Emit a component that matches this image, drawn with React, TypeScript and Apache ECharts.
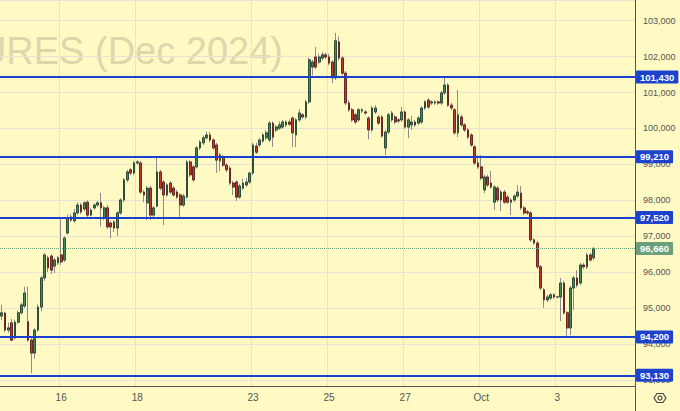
import React, { useEffect, useRef } from 'react';
import * as echarts from 'echarts';

// Each candle: [open, close, low, high]
const candlesSep13: number[][] = [
  [94780, 94870, 94670, 95090], [94860, 94390, 94330, 94900], [94390, 94450, 94320, 94600],
  [94590, 94110, 94080, 94700], [94170, 94610, 94130, 94680], [94610, 94870, 94560, 94930],
  [94870, 95090, 94820, 95150], [95060, 95420, 95000, 95600], [94620, 94110, 94060, 95600],
  [94110, 93750, 93190, 94160], [93750, 94390, 93590, 94440], [94390, 95030, 94340, 95100],
  [95030, 95840, 94920, 95900], [95840, 96480, 95760, 96540], [96400, 96120, 96010, 96460],
  [96450, 96060, 95950, 96500], [96170, 96340, 95980, 96400], [96260, 96400, 96200, 96450],
];
const candlesSep16: number[][] = [
  [96480, 96290, 96200, 97510], [96340, 96950, 96280, 97000], [97090, 97510, 97050, 97600],
  [97540, 97450, 97400, 97620], [97430, 97650, 97380, 97760], [97650, 97870, 97600, 97950],
  [97870, 97680, 97620, 97930], [97760, 97930, 97700, 97980], [97950, 97590, 97540, 98000],
  [97590, 97730, 97550, 97780], [97790, 97870, 97740, 97920], [97870, 97930, 97820, 97980],
  [97930, 97790, 97270, 98210], [97510, 97790, 97450, 97850], [97790, 97260, 97200, 97870],
  [97370, 97260, 96950, 97420], [97400, 97230, 97120, 97450], [97230, 97650, 97000, 97700],
  [97650, 98010, 97600, 98060], [98010, 98570, 97950, 98620], [98570, 98790, 98500, 98850],
  [98850, 98760, 98700, 98900], [98760, 99040, 98700, 99100],
];
const candlesSep18: number[][] = [
  [99040, 99070, 98990, 99120], [99040, 98230, 98180, 99100], [98230, 98150, 97950, 98280],
  [97930, 98340, 97450, 98400], [98340, 97590, 97450, 98400], [97590, 97790, 97540, 97850],
  [97840, 98790, 97800, 99210], [98790, 98340, 98280, 98850], [98510, 98150, 97310, 98560],
  [98150, 98430, 98100, 98480], [98480, 98230, 98180, 98540], [98340, 98150, 98100, 98400],
  [98230, 98090, 98040, 98290], [98150, 97870, 97540, 98200], [97870, 98120, 97820, 98180],
  [98090, 99070, 98040, 99120], [99070, 98710, 98650, 99120], [98930, 98570, 98510, 98980],
  [98930, 99460, 98880, 99510], [99460, 99620, 99400, 99680], [99600, 99740, 99540, 99800],
  [99740, 99820, 99690, 99910], [99820, 99680, 99620, 99900], [99680, 99460, 99400, 99730],
  [99540, 99120, 98760, 99600], [99100, 99260, 98810, 99320], [99210, 98980, 98930, 99260],
  [98980, 98850, 98780, 99040], [98900, 98480, 98420, 98960], [98480, 98370, 98150, 98540],
  [98510, 98090, 97980, 98560], [98090, 98400, 98040, 98460], [98340, 98480, 98290, 98600],
  [98430, 98510, 98370, 98620], [98510, 98760, 98460, 98800],
];
const candlesSep23: number[][] = [
  [98760, 99540, 98700, 99600], [99510, 99340, 99290, 99600], [99540, 99680, 99490, 99740],
  [99650, 99820, 99600, 99880], [99740, 99880, 99680, 99960], [99680, 100150, 99620, 100210],
  [100150, 99760, 99490, 100200], [99960, 100040, 99900, 100100], [100010, 100100, 99960, 100200],
  [100040, 100180, 99990, 100240], [100100, 100180, 100040, 100230], [100180, 100120, 100070, 100250],
  [100290, 99880, 99490, 100340], [99820, 100240, 99480, 100290], [100240, 100430, 100180, 100540],
  [100380, 100320, 100260, 100430], [100320, 100740, 100260, 100800], [100740, 101910, 100680, 101970],
  [101710, 101850, 101480, 101910], [101990, 101710, 101650, 102270], [101850, 101990, 101790, 102080],
  [101960, 102050, 101900, 102130], [102050, 101990, 101930, 102110], [101990, 101820, 101760, 102080],
  [101850, 101410, 101260, 101900],
];
const candlesSep25: number[][] = [
  [101410, 102440, 101350, 102660], [102410, 101960, 101900, 102560], [101960, 101540, 101480, 102020],
  [101540, 100710, 100650, 101600], [100710, 100520, 100460, 100790], [100520, 100240, 100180, 100570],
  [100380, 100180, 100120, 100430], [100240, 100520, 100180, 100570], [100490, 100520, 100430, 100570],
  [100460, 100430, 100380, 100510], [100290, 99960, 99700, 100340], [99960, 100570, 99900, 100630],
  [100460, 100570, 100400, 100650], [100320, 100150, 100100, 100380], [100320, 99790, 99740, 100380],
  [99460, 99900, 99260, 99960], [99900, 100380, 99850, 100430], [100240, 100430, 100180, 100490],
  [100320, 100180, 100120, 100380], [100210, 100240, 100150, 100290], [100240, 100460, 100180, 100600],
];
const candlesSep27: number[][] = [
  [100460, 100040, 99980, 100510], [100040, 100240, 99730, 100290], [100100, 100180, 99960, 100350],
  [100180, 100100, 100040, 100240], [100150, 100290, 100100, 100350], [100180, 100570, 100120, 100620],
  [100570, 100740, 100510, 100790], [100790, 100600, 100540, 100850], [100710, 100740, 100650, 100790],
  [100710, 100740, 100660, 100790], [100740, 100710, 100650, 100790], [100710, 100990, 100650, 101050],
  [100990, 101210, 100930, 101430], [101210, 100650, 100600, 101260], [100650, 100570, 100510, 100710],
  [100520, 99880, 99820, 100570], [99880, 100380, 99760, 101070], [100320, 100100, 100040, 100380],
  [100100, 99960, 99900, 100150], [99960, 99760, 99700, 100010], [99820, 99540, 99490, 99870],
  [99490, 99040, 98980, 99540], [99040, 98930, 98870, 99260],
];
const candlesOct1: number[][] = [
  [98930, 98620, 98560, 99260], [98290, 98650, 98200, 98710], [98650, 98430, 98370, 98710],
  [98480, 98370, 98320, 98820], [97950, 98370, 97730, 98430], [98340, 98010, 97950, 98400],
  [98010, 98230, 97700, 98290], [98230, 97950, 97900, 98290], [98090, 97950, 97900, 98150],
  [97950, 98010, 97590, 98060], [98010, 98120, 97950, 98170], [98120, 98230, 98060, 98420],
  [98200, 97790, 97730, 98400], [97790, 97650, 97590, 97840], [97680, 97650, 97590, 97730],
  [97650, 96900, 96840, 97700], [96900, 96810, 96760, 96950], [96810, 96150, 96090, 96870],
  [96150, 95560, 95500, 96200], [95510, 95230, 95010, 95560], [95230, 95310, 95170, 95370],
  [95280, 95370, 95230, 95420], [95370, 95310, 95260, 95420],
];
const candlesOct3: number[][] = [
  [95310, 95310, 95280, 95340], [95310, 95700, 94640, 95840], [95700, 94870, 94810, 95760],
  [94870, 94450, 94230, 94920], [94450, 95560, 94250, 95620], [95560, 95840, 94950, 95900],
  [95840, 95640, 95580, 96060], [95700, 96200, 95640, 96260], [96200, 96150, 96090, 96260],
  [96150, 96480, 96090, 96540], [96480, 96340, 96290, 96540], [96400, 96660, 96340, 96700],
];

const dayLabels = ['16', '18', '23', '25', '27', 'Oct', '3'];
const dayLabelIndex = [18, 41, 76, 99, 122, 145, 168];
const slotCount = 192;

const levels = [101430, 99210, 97520, 94200, 93130];
const lastPrice = 96660;
const yMin = 92833;
const yMax = 103576;

const fmt = (v: number) => Math.round(v).toLocaleString('en-US');

export default function App() {
  const ref = useRef<HTMLDivElement>(null);

  useEffect(() => {
    if (!ref.current) return;
    const chart = echarts.init(ref.current, undefined, { renderer: 'svg' });

    const candles = [
      ...candlesSep13, ...candlesSep16, ...candlesSep18, ...candlesSep23,
      ...candlesSep25, ...candlesSep27, ...candlesOct1, ...candlesOct3,
    ];
    const bodies = candles.map(([o, c]) => [o, c, Math.min(o, c), Math.max(o, c)]);
    const categories = Array.from({ length: slotCount }, (_, i) => {
      const k = dayLabelIndex.indexOf(i);
      return k >= 0 ? dayLabels[k] : '_' + i;
    });
    const isLabel = (_i: number, v: string) => !String(v).startsWith('_');
    const font = 'Liberation Sans, Arial, sans-serif';

    const levelLabel = (bg: string) => ({
      show: true,
      position: 'end',
      distance: 1,
      formatter: (p: any) => fmt(p.value),
      color: '#ffffff',
      fontWeight: 'bold',
      fontSize: 9.5,
      fontFamily: font,
      backgroundColor: bg,
      padding: [2, 4, 1, 4],
      borderRadius: 1,
    });

    chart.setOption({
      animation: false,
      backgroundColor: '#fff9c4',
      grid: { left: 0, right: 45, top: 0, bottom: 25, containLabel: false },
      xAxis: {
        type: 'category',
        data: categories,
        boundaryGap: true,
        axisLine: { show: true, lineStyle: { color: '#555555', width: 1 } },
        axisTick: { show: false },
        axisLabel: {
          interval: isLabel,
          formatter: (v: string) => (String(v).startsWith('_') ? '' : v),
          color: '#555555',
          fontSize: 10,
          fontFamily: font,
          margin: 6,
        },
        splitLine: { show: true, interval: isLabel, lineStyle: { color: '#e6e3d6', width: 1 } },
      },
      yAxis: {
        type: 'value',
        position: 'right',
        min: yMin,
        max: yMax,
        splitNumber: 10,
        minInterval: 1000,
        maxInterval: 1000,
        axisLine: { show: true, lineStyle: { color: '#555555', width: 1 } },
        axisTick: { show: false },
        axisLabel: {
          showMinLabel: false,
          showMaxLabel: false,
          color: '#555555',
          fontSize: 9,
          fontFamily: font,
          margin: 8,
          formatter: (v: number) => fmt(v),
        },
        splitLine: { show: true, lineStyle: { color: '#e6e3d6', width: 1 } },
      },
      graphic: [
        {
          type: 'text',
          x: 283,
          y: 51,
          z: 0,
          silent: true,
          style: {
            text: 'FUTURES (Dec 2024)',
            align: 'right',
            verticalAlign: 'middle',
            fontSize: 38,
            fontFamily: font,
            fill: '#ddd7ae',
          },
        },
        {
          type: 'line',
          shape: { x1: 635.5, y1: 386, x2: 635.5, y2: 411 },
          style: { stroke: '#555555', lineWidth: 1 },
          silent: true,
        },
        {
          type: 'polygon',
          shape: { points: [[654, 398], [657, 393.5], [663, 393.5], [666, 398], [663, 402.5], [657, 402.5]] },
          style: { fill: 'none', stroke: '#444444', lineWidth: 1.2 },
          silent: true,
        },
        {
          type: 'circle',
          shape: { cx: 660, cy: 398, r: 2 },
          style: { fill: 'none', stroke: '#444444', lineWidth: 1.2 },
          silent: true,
        },
      ],
      series: [
        {
          type: 'candlestick',
          data: candles,
          barWidth: 2.2,
          z: 2,
          silent: true,
          itemStyle: {
            color: '#8c8c8c',
            color0: '#8c8c8c',
            borderColor: '#8c8c8c',
            borderColor0: '#8c8c8c',
            borderWidth: 1,
          },
          markLine: {
            silent: true,
            symbol: ['none', 'none'],
            precision: 0,
            data: [
              ...levels.map((v) => ({
                yAxis: v,
                lineStyle: { color: '#1a3fd1', width: 2, type: 'solid' },
                label: levelLabel('#1d42cc'),
              })),
              {
                yAxis: lastPrice,
                lineStyle: { color: '#6aa57a', width: 1, type: 'dotted' },
                label: levelLabel('#6b9f7b'),
              },
            ],
          },
        },
        {
          type: 'candlestick',
          data: bodies,
          barWidth: 2.2,
          z: 3,
          silent: true,
          itemStyle: {
            color: '#468a5b',
            color0: '#bf3a2c',
            borderColor: '#1f3f2a',
            borderColor0: '#5a1c14',
            borderWidth: 0.8,
          },
        },
      ],
    });

    return () => chart.dispose();
  }, []);

  return <div ref={ref} style={{ position: 'fixed', left: 0, top: 0, width: 680, height: 411 }} />;
}
